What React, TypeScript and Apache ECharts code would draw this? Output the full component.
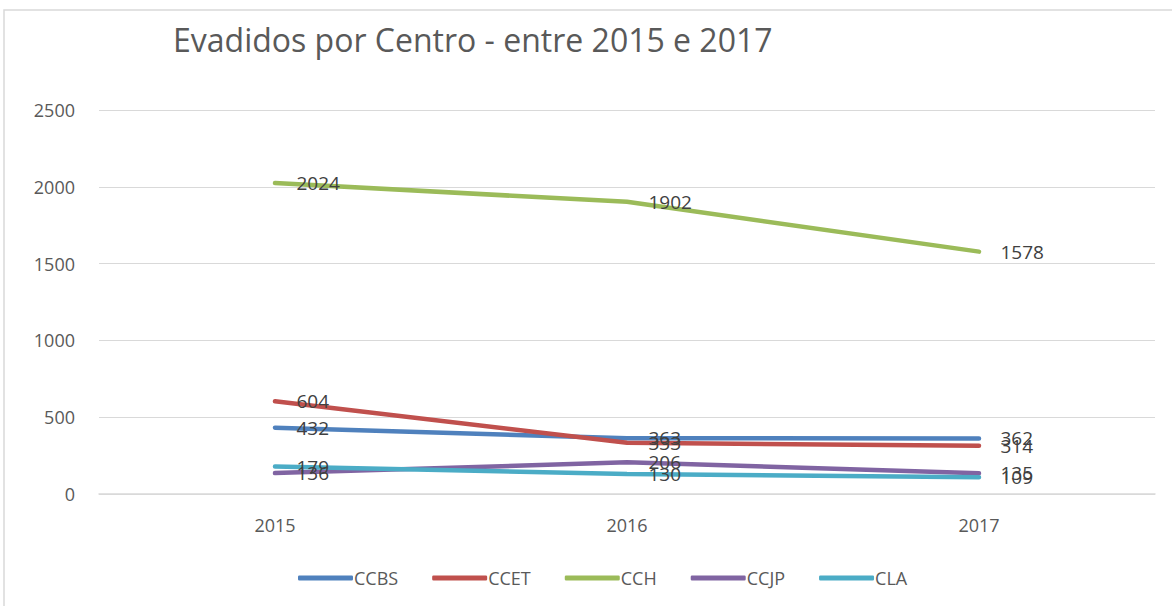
import React, { useEffect, useRef } from "react";
import * as echarts from "echarts";

const categories = ["2015", "2016", "2017"];
const ccbs = [432, 363, 362];
const ccet = [604, 333, 314];
const cch = [2024, 1902, 1578];
const ccjp = [136, 206, 135];
const cla = [179, 130, 109];
const seriesNames = ["CCBS", "CCET", "CCH", "CCJP", "CLA"];
const seriesColors = ["#4f81bd", "#c0504d", "#9bbb59", "#8064a2", "#4bacc6"];

const FONT = "'Liberation Sans Narrow', 'Open Sans', sans-serif";

export default function App() {
  const ref = useRef<HTMLDivElement>(null);
  useEffect(() => {
    const chart = echarts.init(ref.current!, null, { renderer: "svg" });
    const data = [ccbs, ccet, cch, ccjp, cla];
    chart.setOption({
      animation: false,
      textStyle: { fontFamily: FONT },
      title: {
        text: "Evadidos por Centro - entre 2015 e 2017",
        left: 168,
        top: 18,
        textStyle: { fontSize: 32, fontWeight: "normal", color: "#595959", fontFamily: FONT },
      },
      graphic: [
        {
          type: "rect",
          shape: { x: 4, y: 10, width: 1200, height: 620 },
          style: { fill: "none", stroke: "#d9d9d9", lineWidth: 1.5 },
          silent: true,
        },
      ],
      legend: {
        bottom: 14,
        left: 293,
        itemWidth: 55,
        itemHeight: 5,
        itemGap: 34,
        icon: "roundRect",
        textStyle: { fontSize: 18, color: "#595959", fontFamily: FONT, padding: [0, 0, 0, -4] },
        data: seriesNames,
      },
      grid: { left: 99, right: 17, top: 110, bottom: 112, containLabel: false },
      xAxis: {
        type: "category",
        data: categories,
        boundaryGap: true,
        axisLine: { lineStyle: { color: "#d9d9d9", width: 1.5 } },
        axisTick: { show: false },
        axisLabel: { fontSize: 18, color: "#595959", margin: 22, fontFamily: FONT },
      },
      yAxis: {
        type: "value",
        min: 0,
        max: 2500,
        interval: 500,
        axisLine: { show: false },
        axisTick: { show: false },
        splitLine: { lineStyle: { color: "#d9d9d9", width: 1.2 } },
        axisLabel: {
          fontSize: 18,
          color: "#595959",
          margin: 24,
          fontFamily: FONT,
          formatter: (v: number) => String(v),
        },
      },
      series: seriesNames.map((name, i) => ({
        name,
        type: "line",
        data: data[i],
        symbol: "circle",
        symbolSize: 1,
        showSymbol: true,
        lineStyle: { width: 4.5, color: seriesColors[i], cap: "round" },
        itemStyle: { color: seriesColors[i] },
        labelLayout: { hideOverlap: false },
        label: {
          show: true,
          position: "right",
          distance: 21,
          fontSize: 19,
          color: "#404040",
          fontFamily: FONT,
        },
      })),
    });
    return () => chart.dispose();
  }, []);
  return <div ref={ref} style={{ width: 1172, height: 606, position: "absolute", left: 0, top: 0 }} />;
}
